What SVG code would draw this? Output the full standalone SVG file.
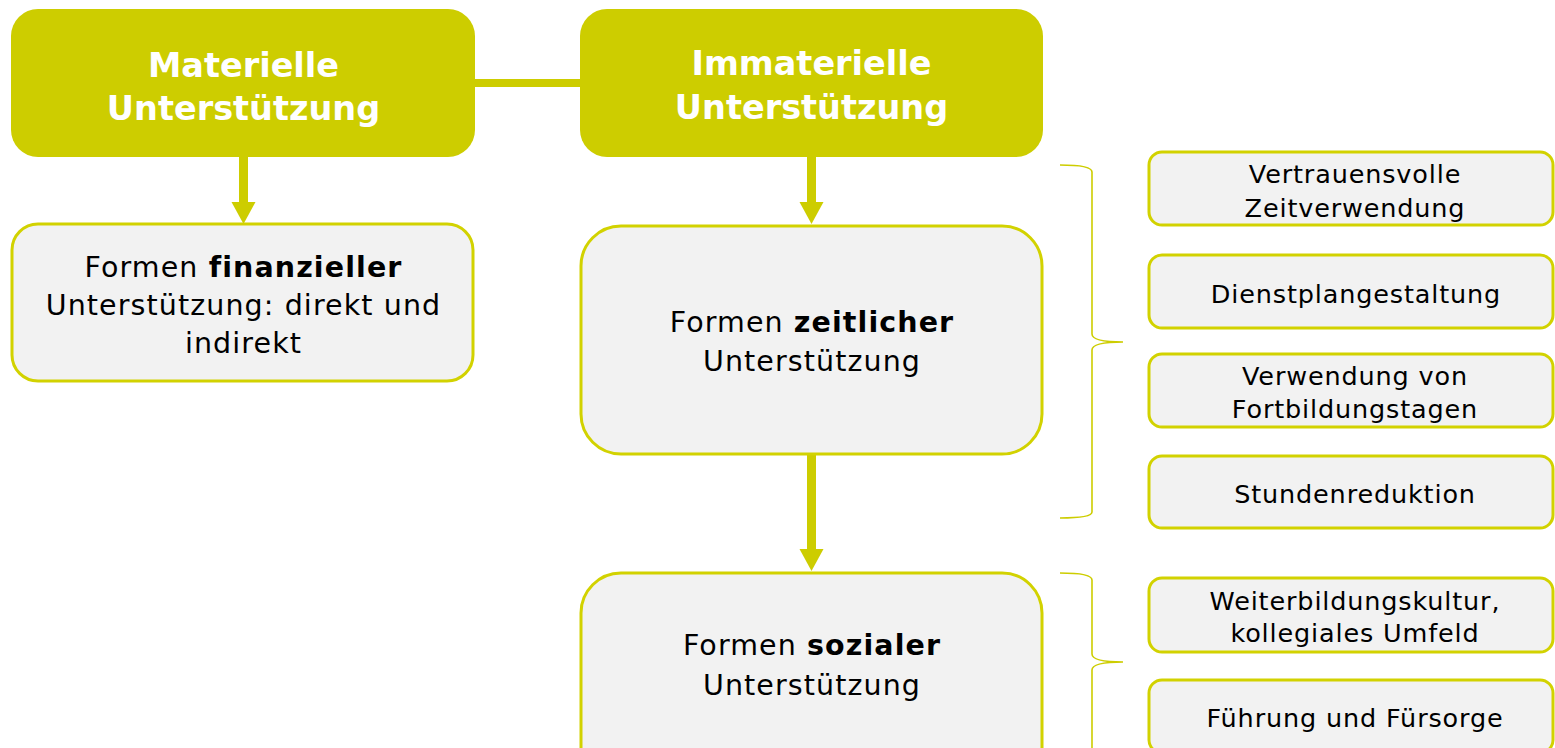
<svg xmlns="http://www.w3.org/2000/svg" width="1555" height="748" viewBox="0 0 1555 748">
<style>
.hdr{fill:#cdcd00}
.hdrt{font-family:"DejaVu Sans",sans-serif;font-size:33.5px;font-weight:bold;fill:#ffffff;text-anchor:middle}
.box{fill:#f2f2f2;stroke:#d2d200;stroke-width:3}
.bt{font-family:"DejaVu Sans",sans-serif;font-size:28.5px;letter-spacing:1.1px;fill:#000000;text-anchor:middle}
.st{font-family:"DejaVu Sans",sans-serif;font-size:25.5px;letter-spacing:0.85px;fill:#000000;text-anchor:middle}
.b{font-weight:bold}
.conn{stroke:#cdcd00;stroke-width:9;fill:none}
.head{fill:#cdcd00}
.brace{fill:none;stroke:#cdcd00;stroke-width:1.6}
</style>
<defs>
<path id="ah" d="M-12,0 L12,0 L0,22 Z"/>
</defs>
<g id="connectors">
<line class="conn" x1="475" y1="83" x2="580" y2="83" style="stroke-width:8"/>
<line class="conn" x1="243.5" y1="157" x2="243.5" y2="204"/>
<use href="#ah" class="head" x="243.5" y="202"/>
<line class="conn" x1="811.5" y1="157" x2="811.5" y2="204"/>
<use href="#ah" class="head" x="811.5" y="202"/>
<line class="conn" x1="811.5" y1="454" x2="811.5" y2="551"/>
<use href="#ah" class="head" x="811.5" y="549"/>
<path class="brace" d="M1060,165 Q1092,165 1092,172 L1092,334 Q1092,342 1123,342 Q1092,342 1092,350 L1092,512 Q1092,518 1060,518"/>
<path class="brace" d="M1060,573 Q1092,573 1092,580 L1092,654 Q1092,662 1123,662 Q1092,662 1092,670 L1092,748"/>
</g>
<g id="materielle">
<rect class="hdr" x="11" y="9" width="464" height="148" rx="27"/>
<text class="hdrt" x="243.5" y="77">Materielle</text>
<text class="hdrt" x="243.5" y="120">Unterstützung</text>
</g>
<g id="immaterielle">
<rect class="hdr" x="580" y="9" width="463" height="148" rx="27"/>
<text class="hdrt" x="811.5" y="75">Immaterielle</text>
<text class="hdrt" x="811.5" y="119">Unterstützung</text>
</g>
<g id="finanziell">
<rect class="box" x="12" y="224" width="461" height="157" rx="26"/>
<text class="bt" x="243.5" y="277">Formen <tspan class="b">finanzieller</tspan></text>
<text class="bt" x="243.5" y="315">Unterstützung: direkt und</text>
<text class="bt" x="243.5" y="353">indirekt</text>
</g>
<g id="zeitlich">
<rect class="box" x="581" y="226" width="461" height="228" rx="40"/>
<text class="bt" x="812" y="332">Formen <tspan class="b">zeitlicher</tspan></text>
<text class="bt" x="812" y="371">Unterstützung</text>
</g>
<g id="sozial">
<rect class="box" x="581" y="573" width="461" height="228" rx="40"/>
<text class="bt" x="812" y="655">Formen <tspan class="b">sozialer</tspan></text>
<text class="bt" x="812" y="695">Unterstützung</text>
</g>
<g id="vertrauen">
<rect class="box" x="1149" y="152" width="404" height="73" rx="13"/>
<text class="st" x="1355" y="183">Vertrauensvolle</text>
<text class="st" x="1355" y="217">Zeitverwendung</text>
</g>
<g id="dienstplan">
<rect class="box" x="1149" y="255" width="404" height="73" rx="13"/>
<text class="st" x="1356" y="303">Dienstplangestaltung</text>
</g>
<g id="fortbildung">
<rect class="box" x="1149" y="354" width="404" height="73" rx="13"/>
<text class="st" x="1355" y="385">Verwendung von</text>
<text class="st" x="1355" y="418">Fortbildungstagen</text>
</g>
<g id="stunden">
<rect class="box" x="1149" y="456" width="404" height="72" rx="13"/>
<text class="st" x="1355" y="503">Stundenreduktion</text>
</g>
<g id="weiterbildung">
<rect class="box" x="1149" y="578" width="404" height="74" rx="13"/>
<text class="st" x="1355" y="610">Weiterbildungskultur,</text>
<text class="st" x="1355" y="642">kollegiales Umfeld</text>
</g>
<g id="fuehrung">
<rect class="box" x="1149" y="680" width="404" height="73" rx="13"/>
<text class="st" x="1355" y="727">Führung und Fürsorge</text>
</g>
</svg>
